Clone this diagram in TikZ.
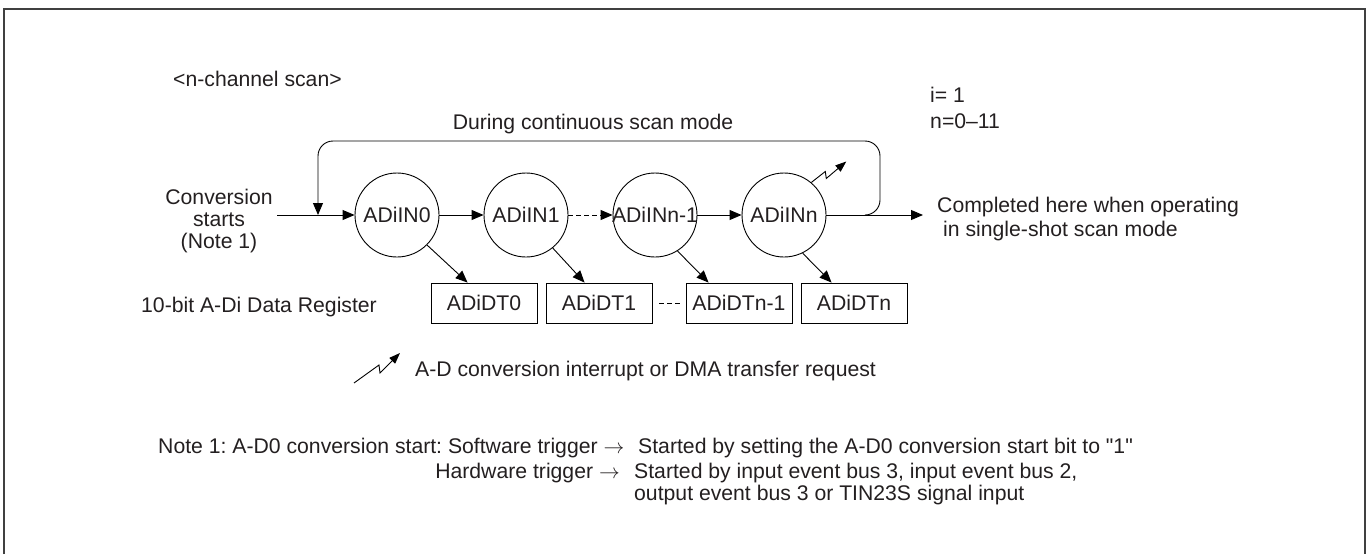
\documentclass[tikz,border=0pt]{standalone}
\usepackage{fontspec}
\setmainfont{Liberation Sans}
\setmonofont{Liberation Sans}
\usetikzlibrary{arrows.meta}
\definecolor{txt}{HTML}{231F20}
\newcommand{\sq}{\texttt{"}}
\frenchspacing
\begin{document}
\begin{tikzpicture}[x=1pt,y=-1pt,
  every node/.style={inner sep=0pt, font=\fontsize{21.2}{23}\selectfont\frenchspacing, text=txt},
  lbl/.style={anchor=base west},
  chan/.style={circle, draw, minimum size=84pt, line width=0.9pt},
  reg/.style={draw, minimum width=106pt, minimum height=40pt, line width=0.9pt},
  conn/.style={line width=0.9pt, -{Triangle[length=12pt,width=10pt]}},
  bolt/.style={line width=0.9pt, -{Triangle[length=11pt,width=8pt]}},
  dsh/.style={dash pattern=on 5pt off 3pt},
]
\useasboundingbox (0,0) rectangle (1372,554);
\draw[line width=1.2pt, black!75] (4,554) -- (4,9) -- (1365,9) -- (1365,554);

% channels
\node[chan] (c0) at (397,215) {\makebox[0pt]{ADiIN0}};
\node[chan] (c1) at (526,215) {\makebox[0pt]{ADiIN1}};
\node[chan] (c2) at (655,215) {\makebox[0pt]{ADiINn-1}};
\node[chan] (c3) at (784,215) {\makebox[0pt]{ADiINn}};

% registers
\node[reg] (b0) at (484,303) {ADiDT0};
\node[reg] (b1) at (599,303) {ADiDT1};
\node[reg] (b2) at (739,303) {ADiDTn-1};
\node[reg] (b3) at (854,303) {ADiDTn};

% main flow
\coordinate (in) at (277,215);
\coordinate (out) at (923,215);
\coordinate (lj) at (865,215);
\draw[conn] (in) -- (c0);
\draw[conn] (c0) -- (c1);
\draw[conn, dsh] (c1) -- (c2);
\draw[conn] (c2) -- (c3);
\draw[conn] (c3) -- (out);
\draw[conn, rounded corners=15pt] (lj) -- (880,215) -- (880,141) -- (318,141) -- (318,215);

% to registers
\draw[conn] (c0.-45) -- ([xshift=37pt]b0.north west);
\draw[conn] (c1.-51) -- ([xshift=39pt]b1.north west);
\draw[conn] (c2.-58) -- ([xshift=23pt]b2.north west);
\draw[conn] (c3.-64) -- ([xshift=31pt]b3.north west);
\draw[line width=0.9pt, dsh, shorten <=7pt, shorten >=5pt] (b1) -- (b2);

% interrupt bolt
\draw[bolt] (c3.50) -- ++(14,-11) -- ++(1,7) -- ++(20,-17);

% legend
\coordinate (lg) at (354,383);
\draw[bolt] (lg) -- ++(25,-18) -- ++(1,8) -- ++(20,-20);
\node[lbl] (leg) at (415,376) {A-D conversion interrupt or DMA transfer request};

% labels
\node[lbl] (title) at (173,86) {<n-channel scan>};
\node[lbl] (ival) at (930,102) {i= 1};
\node[lbl] (nval) at (930,128) {n=0–11};
\node[anchor=base] (cont) at (593,129) {During continuous scan mode};
\node[anchor=base] (cs1) at (219,204) {Conversion};
\node[anchor=base] (cs2) at (219,226) {starts};
\node[anchor=base] (cs3) at (219,248) {(Note 1)};
\node[lbl] (done1) at (937,212) {Completed here when operating};
\node[lbl] (done2) at (943,236) {in single-shot scan mode};
\node[lbl] (regl) at (141,312) {10-bit A-Di Data Register};

% note
\node[lbl] (n1) at (158,453) {Note 1: A-D0 conversion start: Software trigger $\rightarrow$};
\node[anchor=base east] (n2) at (620,478) {Hardware trigger $\rightarrow$};
\node[lbl] (n1b) at (638,453) {Started by setting the A-D0 conversion start bit to \sq1\sq};
\node[lbl] (n2b) at (634,478) {Started by input event bus 3, input event bus 2,};
\node[lbl] (n3b) at (634,500) {output event bus 3 or TIN23S signal input};
\end{tikzpicture}
\end{document}
